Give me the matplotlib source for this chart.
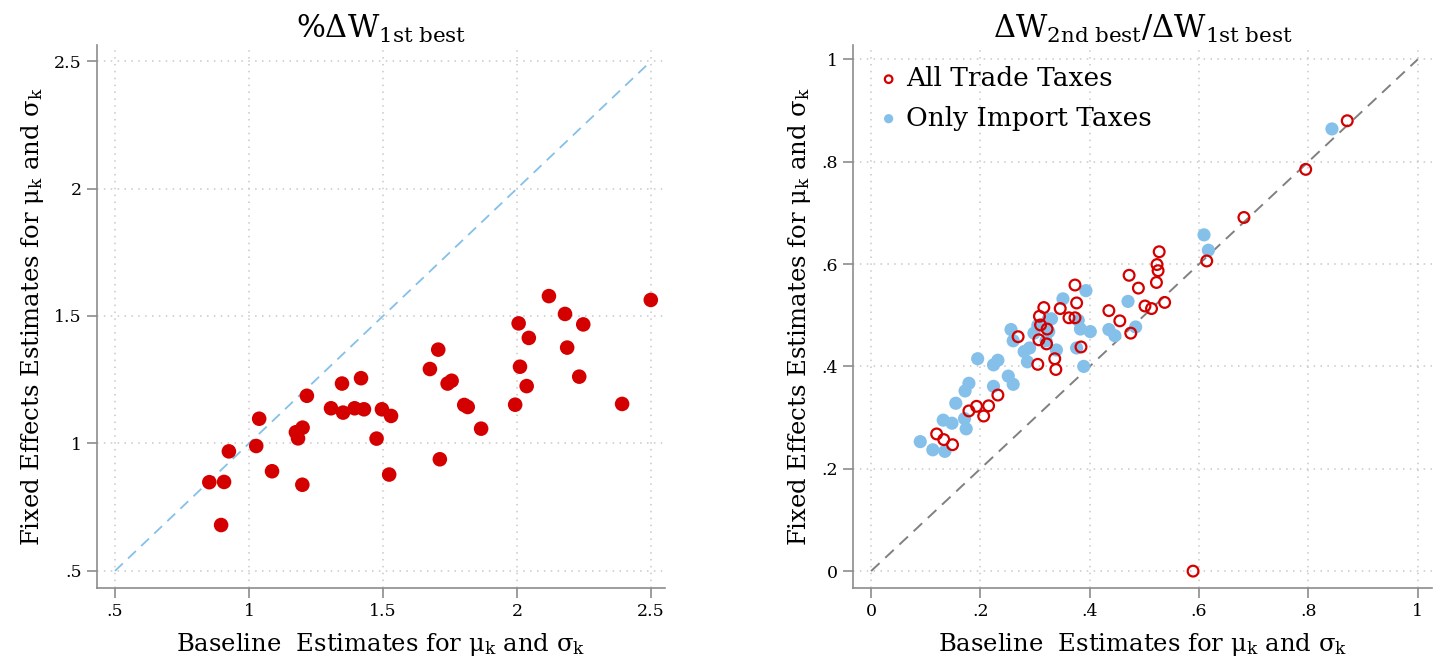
import matplotlib
matplotlib.use("Agg")
import matplotlib.pyplot as plt
import numpy as np
from matplotlib.ticker import FuncFormatter

plt.rcParams['font.family'] = ['DejaVu Serif']
plt.rcParams['mathtext.fontset'] = 'custom'
plt.rcParams['mathtext.rm'] = 'DejaVu Serif'
plt.rcParams['mathtext.it'] = 'DejaVu Serif:italic'

# ---- Left panel: %ΔW 1st best ----
left_x = [0.852, 0.907, 0.896, 0.925, 1.027, 1.038, 1.086, 1.175, 1.183, 1.200,
          1.199, 1.216, 1.306, 1.347, 1.351, 1.394, 1.418, 1.429, 1.496, 1.530,
          1.476, 1.523, 1.706, 1.675, 1.741, 1.756, 1.803, 1.816, 1.866, 1.712,
          1.993, 2.011, 2.036, 2.006, 2.044, 2.119, 2.179, 2.247, 2.187, 2.232,
          2.392, 2.499]
left_y = [0.848, 0.849, 0.680, 0.969, 0.990, 1.097, 0.891, 1.044, 1.020, 1.062,
          0.838, 1.187, 1.138, 1.235, 1.121, 1.138, 1.256, 1.134, 1.134, 1.108,
          1.019, 0.878, 1.368, 1.292, 1.235, 1.246, 1.151, 1.143, 1.058, 0.938,
          1.152, 1.301, 1.225, 1.471, 1.414, 1.578, 1.508, 1.467, 1.376, 1.262,
          1.155, 1.563]

# ---- Right panel: ΔW 2nd best / ΔW 1st best ----
all_x = [0.120, 0.133, 0.149, 0.179, 0.193, 0.206, 0.215, 0.232, 0.269, 0.305,
         0.308, 0.316, 0.310, 0.322, 0.307, 0.321, 0.336, 0.338, 0.346, 0.362,
         0.373, 0.376, 0.373, 0.384, 0.435, 0.455, 0.475, 0.472, 0.489, 0.501,
         0.513, 0.522, 0.523, 0.525, 0.527, 0.537, 0.614, 0.682, 0.795, 0.871,
         0.589]
all_y = [0.268, 0.257, 0.247, 0.313, 0.322, 0.303, 0.323, 0.344, 0.458, 0.404,
         0.498, 0.515, 0.481, 0.473, 0.452, 0.444, 0.415, 0.394, 0.513, 0.495,
         0.495, 0.524, 0.559, 0.438, 0.509, 0.489, 0.465, 0.578, 0.553, 0.518,
         0.513, 0.564, 0.599, 0.587, 0.624, 0.525, 0.606, 0.691, 0.785, 0.880,
         0.000]
imp_x = [0.090, 0.113, 0.135, 0.132, 0.148, 0.171, 0.174, 0.155, 0.172, 0.179,
         0.224, 0.251, 0.260, 0.224, 0.232, 0.195, 0.256, 0.260, 0.280, 0.290,
         0.286, 0.298, 0.305, 0.324, 0.330, 0.325, 0.320, 0.339, 0.351, 0.376,
         0.379, 0.383, 0.389, 0.393, 0.401, 0.435, 0.446, 0.470, 0.484, 0.609,
         0.617, 0.843]
imp_y = [0.253, 0.237, 0.234, 0.295, 0.289, 0.298, 0.278, 0.328, 0.352, 0.367,
         0.361, 0.381, 0.365, 0.403, 0.412, 0.415, 0.472, 0.450, 0.429, 0.436,
         0.409, 0.465, 0.480, 0.492, 0.493, 0.468, 0.450, 0.432, 0.532, 0.436,
         0.490, 0.473, 0.400, 0.548, 0.468, 0.472, 0.460, 0.527, 0.477, 0.657,
         0.627, 0.864]

left_ticks = [0.5, 1, 1.5, 2, 2.5]
right_ticks = [0, 0.2, 0.4, 0.6, 0.8, 1]

RED = '#D40000'
BLUE = '#84C0EA'
GRID = '#C8C8C8'
AXC = '#8C8C8C'

def fmt(v, pos=None):
    s = ('%g' % v)
    if s.startswith('0.'):
        s = s[1:]
    return s

fig = plt.figure(figsize=(14.5, 6.69), dpi=100)
ax1 = fig.add_axes([97/1450, 1-588/669, 568/1450, 543/669])
ax2 = fig.add_axes([853/1450, 1-588/669, 579/1450, 543/669])

def style(ax):
    for s in ['top', 'right']:
        ax.spines[s].set_visible(False)
    for s in ['left', 'bottom']:
        ax.spines[s].set_color(AXC)
        ax.spines[s].set_linewidth(1.2)
    ax.tick_params(axis='both', direction='out', length=7, width=1.2,
                   color=AXC, labelsize=12.5, pad=4)
    ax.grid(True, linestyle=(0, (1, 3.5)), color=GRID, linewidth=1.1)
    ax.set_axisbelow(True)
    ax.xaxis.set_major_formatter(FuncFormatter(fmt))
    ax.yaxis.set_major_formatter(FuncFormatter(fmt))

ylab = r'Fixed Effects Estimates for μ$_\mathrm{k}$ and σ$_\mathrm{k}$'
xlab = r'Baseline  Estimates for μ$_\mathrm{k}$ and σ$_\mathrm{k}$'

# Left
style(ax1)
ax1.set_xlim(0.433, 2.552)
ax1.set_ylim(0.433, 2.563)
ax1.set_xticks(left_ticks)
ax1.set_yticks(left_ticks)
ax1.plot([left_ticks[0], left_ticks[-1]], [left_ticks[0], left_ticks[-1]],
         linestyle=(0, (6, 4)), color=BLUE, linewidth=1.3, zorder=2)
ax1.scatter(left_x, left_y, s=110, color=RED, edgecolors='none', zorder=3)
ax1.set_title(r'%$\Delta$W$_\mathrm{1st\ best}$', fontsize=22, pad=0)
ax1.set_xlabel(xlab, fontsize=17.5, labelpad=8)
ax1.set_ylabel(ylab, fontsize=17.5, labelpad=6)

# Right
style(ax2)
ax2.set_xlim(-0.033, 1.026)
ax2.set_ylim(-0.033, 1.028)
ax2.set_xticks(right_ticks)
ax2.set_yticks(right_ticks)
ax2.plot([0, 1], [0, 1], linestyle=(0, (6, 4)), color='#808080',
         linewidth=1.4, zorder=2)
ax2.scatter(all_x, all_y, s=60, facecolors='none', edgecolors=RED,
            linewidths=1.6, zorder=4, label='All Trade Taxes')
ax2.scatter(imp_x, imp_y, s=90, color=BLUE, edgecolors='none', zorder=3,
            label='Only Import Taxes')
ax2.set_title(r'$\Delta$W$_\mathrm{2nd\ best}$/$\Delta$W$_\mathrm{1st\ best}$',
              fontsize=22, pad=0)
ax2.set_xlabel(xlab, fontsize=17.5, labelpad=8)
ax2.set_ylabel(ylab, fontsize=17.5, labelpad=6)
leg = ax2.legend(loc='upper left', frameon=False, fontsize=19,
                 handletextpad=0.1, borderaxespad=0.3, borderpad=0.5,
                 labelspacing=0.55, markerscale=0.7, handlelength=1.1)

fig.savefig('out.png', dpi=100)
